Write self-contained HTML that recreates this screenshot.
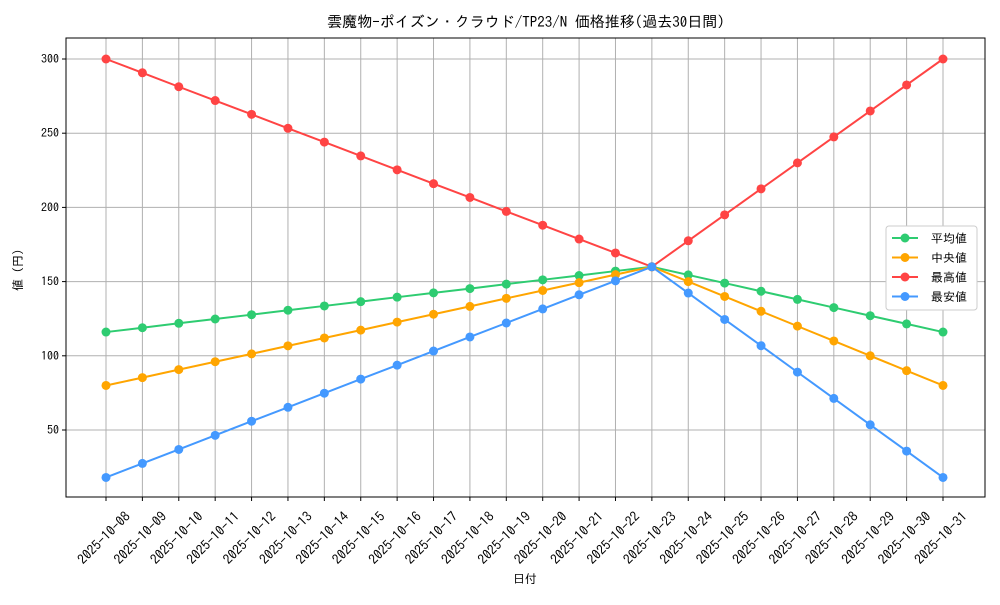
<!DOCTYPE html>
<html><head><meta charset="utf-8"><style>
body{margin:0;background:#fff}
svg text{font-family:"IPAGothic","Noto Sans CJK JP",monospace;fill:#000}
</style></head><body>
<svg id="c" width="1000" height="600"></svg>
<script>
const dates=["2025-10-08","2025-10-09","2025-10-10","2025-10-11","2025-10-12","2025-10-13","2025-10-14","2025-10-15","2025-10-16","2025-10-17","2025-10-18","2025-10-19","2025-10-20","2025-10-21","2025-10-22","2025-10-23","2025-10-24","2025-10-25","2025-10-26","2025-10-27","2025-10-28","2025-10-29","2025-10-30","2025-10-31"];
const avgVals=[116,118.9,121.9,124.8,127.7,130.7,133.6,136.5,139.5,142.4,145.3,148.3,151.2,154.1,157.1,160,154.5,149,143.5,138,132.5,127,121.5,116];
const medVals=[80,85.3,90.7,96,101.3,106.7,112,117.3,122.7,128,133.3,138.7,144,149.3,154.7,160,150,140,130,120,110,100,90,80];
const maxVals=[300,290.7,281.3,272,262.7,253.3,244,234.7,225.3,216,206.7,197.3,188,178.7,169.3,160,177.5,195,212.5,230,247.5,265,282.5,300];
const minVals=[18,27.5,36.9,46.4,55.9,65.3,74.8,84.3,93.7,103.2,112.7,122.1,131.6,141.1,150.5,160,142.3,124.5,106.8,89,71.3,53.5,35.8,18];
const yTicks=[50,100,150,200,250,300];
const seriesNames=["平均値","中央値","最高値","最安値"];
const colors=["#2ecc71","#ffa500","#ff4444","#4499ff"];
const NS="http://www.w3.org/2000/svg",svg=document.getElementById('c');
function mk(t,a,p){const e=document.createElementNS(NS,t);for(const k in a)e.setAttribute(k,a[k]);(p||svg).appendChild(e);return e;}
const L=66,R=985,T=38,B=497;
const x=i=>106+i*(943-106)/(dates.length-1);
const y=v=>59+(300-v)*(430-59)/250;
let t=mk('text',{x:526,y:27,'text-anchor':'middle','font-size':15});t.textContent="雲魔物-ポイズン・クラウド/TP23/N 価格推移(過去30日間)";

dates.forEach((d,i)=>{const g=mk('line',{x1:x(i),x2:x(i),y1:T,y2:B,stroke:'#b0b0b0','stroke-width':1});

mk('line',{x1:x(i),x2:x(i),y1:B,y2:B+4,stroke:'#000'});
const cx=x(i)-2,cy=B+41;
const l=mk('text',{x:cx,y:cy+4.5,'text-anchor':'middle','font-size':13.5,transform:`rotate(-45 ${cx} ${cy})`});l.textContent=d;
});
yTicks.forEach(v=>{const g=mk('line',{x1:L,x2:R,y1:y(v),y2:y(v),stroke:'#b0b0b0','stroke-width':1});

mk('line',{x1:L-4,x2:L,y1:y(v),y2:y(v),stroke:'#000'});
const l=mk('text',{x:L-7,y:y(v)+4,'text-anchor':'end','font-size':12});l.textContent=v;
});
const fr=mk('rect',{x:L,y:T,width:R-L,height:B-T,fill:'none',stroke:'#000'});

t=mk('text',{x:525,y:583,'text-anchor':'middle','font-size':12});t.textContent="日付";

t=mk('text',{x:22,y:270,'text-anchor':'middle','font-size':12,transform:'rotate(-90 22 270)'});t.textContent="値 (円)";

[avgVals,medVals,maxVals,minVals].forEach((vals,s)=>{
const p=mk('polyline',{points:vals.map((v,i)=>x(i)+','+y(v)).join(' '),fill:'none',stroke:colors[s],'stroke-width':2});

vals.forEach((v,i)=>{const c=mk('circle',{cx:x(i),cy:y(v),r:4.5,fill:colors[s]});
});});
const lg=mk('g',{});
mk('rect',{x:886,y:226,width:91,height:84,fill:'#fff',stroke:'#ccc',rx:3},lg);
seriesNames.forEach((n,s)=>{const yy=238+s*19.5;
mk('line',{x1:892,x2:918,y1:yy,y2:yy,stroke:colors[s],'stroke-width':2},lg);
mk('circle',{cx:905,cy:yy,r:4.5,fill:colors[s]},lg);
const l=mk('text',{x:931,y:yy+4.5,'font-size':12},lg);l.textContent=n;
});
</script></body></html>
